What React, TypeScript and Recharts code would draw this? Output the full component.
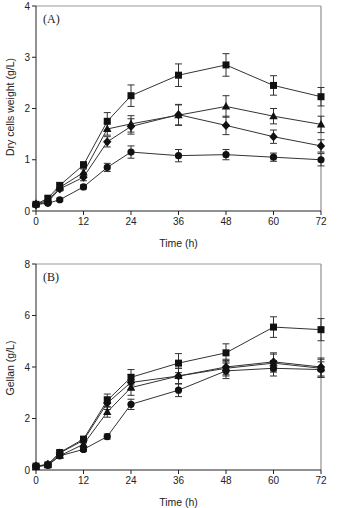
import React from 'react';
import { LineChart, Line, XAxis, YAxis, ErrorBar, ReferenceLine } from 'recharts';

// sampling times (h)
const hours = [0, 3, 6, 12, 18, 24, 36, 48, 60, 72];
const hourTicks = [0, 12, 24, 36, 48, 60, 72];

// (A) dry cell weight, g/L
const dcwSquare = [0.13, 0.25, 0.5, 0.9, 1.75, 2.25, 2.65, 2.85, 2.45, 2.23];
const dcwSquareErr = [0.03, 0.04, 0.05, 0.06, 0.17, 0.21, 0.22, 0.22, 0.19, 0.18];
const dcwTriangle = [0.14, 0.2, 0.46, 0.75, 1.6, 1.7, 1.87, 2.04, 1.85, 1.69];
const dcwTriangleErr = [0.03, 0.03, 0.05, 0.07, 0.12, 0.16, 0.2, 0.21, 0.15, 0.16];
const dcwDiamond = [0.12, 0.18, 0.43, 0.66, 1.35, 1.65, 1.88, 1.67, 1.45, 1.27];
const dcwDiamondErr = [0.02, 0.03, 0.04, 0.07, 0.1, 0.15, 0.2, 0.18, 0.13, 0.12];
const dcwCircle = [0.13, 0.15, 0.22, 0.47, 0.85, 1.15, 1.08, 1.1, 1.05, 1.0];
const dcwCircleErr = [0.02, 0.02, 0.03, 0.04, 0.08, 0.12, 0.12, 0.1, 0.08, 0.12];
const dcwTicks = [0, 1, 2, 3, 4];

// (B) gellan, g/L
const gelSquare = [0.15, 0.2, 0.68, 1.2, 2.7, 3.6, 4.15, 4.55, 5.55, 5.45];
const gelSquareErr = [0.05, 0.05, 0.08, 0.1, 0.25, 0.3, 0.37, 0.35, 0.4, 0.43];
const gelTriangle = [0.12, 0.2, 0.55, 1.0, 2.25, 3.2, 3.65, 3.95, 4.15, 3.95];
const gelTriangleErr = [0.05, 0.05, 0.07, 0.1, 0.2, 0.3, 0.3, 0.3, 0.35, 0.35];
const gelDiamond = [0.15, 0.22, 0.66, 1.15, 2.6, 3.4, 3.65, 4.0, 4.2, 4.0];
const gelDiamondErr = [0.05, 0.05, 0.08, 0.1, 0.25, 0.3, 0.3, 0.3, 0.35, 0.35];
const gelCircle = [0.15, 0.18, 0.55, 0.8, 1.3, 2.55, 3.1, 3.85, 3.95, 3.9];
const gelCircleErr = [0.04, 0.04, 0.06, 0.08, 0.1, 0.2, 0.25, 0.3, 0.3, 0.3];
const gelTicks = [0, 2, 4, 6, 8];

const buildRows = (sq, sqE, tr, trE, di, diE, ci, ciE) =>
  hours.map((t, i) => ({
    t,
    sq: sq[i], sqErr: sqE[i],
    tri: tr[i], triErr: trE[i],
    dia: di[i], diaErr: diE[i],
    cir: ci[i], cirErr: ciE[i],
  }));

const dcwRows = buildRows(dcwSquare, dcwSquareErr, dcwTriangle, dcwTriangleErr, dcwDiamond, dcwDiamondErr, dcwCircle, dcwCircleErr);
const gelRows = buildRows(gelSquare, gelSquareErr, gelTriangle, gelTriangleErr, gelDiamond, gelDiamondErr, gelCircle, gelCircleErr);

const INK = '#111';
const LINE = '#333';

const squareDot = (p: any) => (
  <rect key={`s${p.index}`} x={p.cx - 3.5} y={p.cy - 3.5} width={7} height={7} fill={INK} />
);
const circleDot = (p: any) => <circle key={`c${p.index}`} cx={p.cx} cy={p.cy} r={3.6} fill={INK} />;
const triangleDot = (p: any) => (
  <polygon
    key={`t${p.index}`}
    points={`${p.cx},${p.cy - 4.5} ${p.cx + 4.2},${p.cy + 3} ${p.cx - 4.2},${p.cy + 3}`}
    fill={INK}
  />
);
const diamondDot = (p: any) => (
  <polygon
    key={`d${p.index}`}
    points={`${p.cx},${p.cy - 4.6} ${p.cx + 4.2},${p.cy} ${p.cx},${p.cy + 4.6} ${p.cx - 4.2},${p.cy}`}
    fill={INK}
  />
);

const series = [
  { key: 'cir', dot: circleDot },
  { key: 'dia', dot: diamondDot },
  { key: 'tri', dot: triangleDot },
  { key: 'sq', dot: squareDot },
];

function Panel({ rows, ticks, top, height, marginTop, marginBottom, titleOffset }) {
  const yMax = ticks[ticks.length - 1];
  return (
    <div style={{ position: 'absolute', left: 0, top }}>
      <LineChart
        width={337}
        height={height}
        data={rows}
        margin={{ top: marginTop, right: 16, left: 0, bottom: 0 }}
      >
        <XAxis
          dataKey="t"
          type="number"
          domain={[0, 72]}
          ticks={hourTicks}
          stroke="#222"
          tick={{ fill: '#222', fontSize: 10 }}
          tickSize={4}
          tickMargin={3}
          height={marginBottom}
          label={{ value: 'Time (h)', position: 'insideBottom', offset: titleOffset, fill: '#222', fontSize: 10.5 }}
        />
        <YAxis
          type="number"
          domain={[0, yMax]}
          ticks={ticks}
          stroke="#222"
          tick={{ fill: '#222', fontSize: 10 }}
          tickSize={4}
          tickMargin={2}
          width={36}
        />
        <ReferenceLine y={yMax} stroke="#999" strokeWidth={1} />
        <ReferenceLine x={72} stroke="#999" strokeWidth={1.3} />
        {series.map((s) => (
          <Line
            key={s.key}
            dataKey={s.key}
            stroke={LINE}
            strokeWidth={1}
            dot={s.dot}
            activeDot={false}
            isAnimationActive={false}
          >
            <ErrorBar
              dataKey={`${s.key}Err`}
              direction="y"
              width={3.5}
              stroke="#333"
              strokeWidth={1}
              isAnimationActive={false}
            />
          </Line>
        ))}
      </LineChart>
    </div>
  );
}

const yTitle = (text: string, top: number) => (
  <div
    style={{
      position: 'absolute',
      left: 10,
      top,
      transform: 'translate(-50%, -50%) rotate(-90deg)',
      whiteSpace: 'nowrap',
      fontSize: 10.5,
      color: '#222',
    }}
  >
    {text}
  </div>
);

const panelTag = (text: string, top: number) => (
  <div
    style={{
      position: 'absolute',
      left: 43,
      top,
      fontFamily: '"Liberation Serif", "DejaVu Serif", serif',
      fontSize: 12,
      color: '#222',
    }}
  >
    {text}
  </div>
);

export default function App() {
  return (
    <div
      style={{
        position: 'absolute',
        left: 0,
        top: 0,
        width: 337,
        height: 508,
        background: '#fff',
        fontFamily: '"Liberation Sans", Arial, sans-serif',
      }}
    >
      <Panel rows={dcwRows} ticks={dcwTicks} top={0} height={250} marginTop={6} marginBottom={39} titleOffset={3} />
      <Panel rows={gelRows} ticks={gelTicks} top={250} height={258} marginTop={14} marginBottom={38} titleOffset={2} />
      {yTitle('Dry cells weight (g/L)', 107)}
      {yTitle('Gellan (g/L)', 368)}
      {panelTag('(A)', 12)}
      {panelTag('(B)', 270)}
    </div>
  );
}
